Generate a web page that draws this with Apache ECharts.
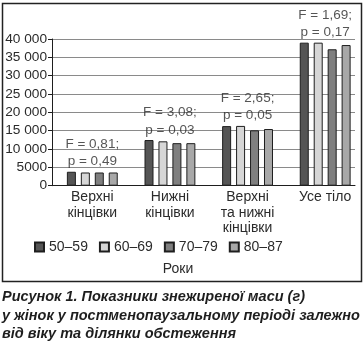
<!DOCTYPE html>
<html>
<head>
<meta charset="utf-8">
<script src="https://cdn.jsdelivr.net/npm/echarts@6/dist/echarts.min.js"></script>
<style>
  html, body { margin: 0; padding: 0; background: #fff; }
  #chart { width: 364px; height: 346px; }
</style>
</head>
<body>
<div id="chart"></div>
<script>
// Lean body mass (g) by body region and age group
const regions = ['Верхні\nкінцівки', 'Нижні\nкінцівки', 'Верхні\nта нижні\nкінцівки', 'Усе тіло'];
const ageGroups = ['50–59', '60–69', '70–79', '80–87'];
const age50_59 = [3800, 12450, 16250, 39000];
const age60_69 = [3600, 12100, 16300, 39000];
const age70_79 = [3600, 11600, 15100, 37200];
const age80_87 = [3600, 11600, 15450, 38350];
const fStat = ['0,81', '3,08', '2,65', '1,69'];
const pStat = ['0,49', '0,03', '0,05', '0,17'];
const yTicks = [0, 5000, 10000, 15000, 20000, 25000, 30000, 35000, 40000];
const yTickLabels = ['0', '5000', '10 000', '15 000', '20 000', '25 000', '30 000', '35 000', '40 000'];

const seriesValues = [age50_59, age60_69, age70_79, age80_87];
const barColors = ['#555555', '#d6d6d6', '#7f7f7f', '#a8a8a8'];
const groupMax = regions.map((_, i) => Math.max(...seriesValues.map(s => s[i])));

const FONT = 'Liberation Sans, Arial, sans-serif';
const TEXT = '#2b2b2b';

const chart = echarts.init(document.getElementById('chart'), null, { renderer: 'canvas' });

const barSeries = ageGroups.map((name, k) => ({
  name: name,
  type: 'bar',
  xAxisIndex: 1,
  yAxisIndex: 1,
  data: seriesValues[k],
  barWidth: 9,
  barGap: '55%',
  itemStyle: { color: barColors[k], borderColor: '#1e1e1e', borderWidth: 1 },
  emphasis: { disabled: true },
  z: 3
}));

chart.setOption({
  animation: false,
  textStyle: { fontFamily: FONT },
  grid: [
    { left: 52, top: 39, width: 303, height: 146.7 },
    { left: 53.5, top: 39, width: 313.2, height: 146.7 }
  ],
  xAxis: [
    {
      type: 'category', gridIndex: 0, data: regions,
      axisLine: { show: true, lineStyle: { color: '#1e1e1e', width: 1 } },
      axisTick: { show: false }, axisLabel: { show: false }, splitLine: { show: false }
    },
    {
      type: 'category', gridIndex: 1, data: regions,
      axisLine: { show: false }, axisTick: { show: false }, splitLine: { show: false },
      axisLabel: {
        show: true, margin: 4, color: TEXT, fontFamily: FONT, fontSize: 14, lineHeight: 15.5,
        interval: 0, align: 'center', verticalAlign: 'top'
      }
    }
  ],
  yAxis: [
    {
      type: 'value', gridIndex: 0, min: 0, max: 40000, interval: 5000,
      axisLine: { show: true, lineStyle: { color: '#1e1e1e', width: 1 } },
      axisTick: { show: true, length: 4, lineStyle: { color: '#1e1e1e' } },
      splitLine: { show: true, lineStyle: { color: '#8a8a8a', width: 1 } },
      axisLabel: {
        margin: 5, color: TEXT, fontFamily: FONT, fontSize: 13.7,
        formatter: v => yTickLabels[yTicks.indexOf(v)]
      }
    },
    {
      type: 'value', gridIndex: 1, min: 0, max: 40000, interval: 5000, show: false
    }
  ],
  legend: {
    data: ageGroups,
    left: 34, top: 240, padding: 0,
    icon: 'rect', itemWidth: 9, itemHeight: 9, itemGap: 11,
    textStyle: { color: TEXT, fontFamily: FONT, fontSize: 14 },
    selectedMode: false
  },
  graphic: [
    { type: 'rect', shape: { x: 2.5, y: 3.5, width: 359, height: 278 },
      style: { fill: 'none', stroke: '#222', lineWidth: 1.5 }, z: 0, silent: true },
    { type: 'text', style: { text: 'Роки', x: 178, y: 269, fill: TEXT,
      font: '14px ' + FONT, textAlign: 'center', textVerticalAlign: 'middle' }, silent: true },
    { type: 'text', style: {
        text: 'Рисунок 1. Показники знежиреної маси (г)\nу жінок у постменопаузальному періоді залежно\nвід віку та ділянки обстеження',
        x: 2, y: 288, fill: '#1e1e1e', font: 'italic bold 14.5px ' + FONT, lineHeight: 18.5,
        textAlign: 'left', textVerticalAlign: 'top' }, silent: true }
  ],
  series: barSeries.concat([{
    name: 'stats',
    type: 'scatter',
    xAxisIndex: 1,
    yAxisIndex: 1,
    data: groupMax,
    symbolSize: 1,
    itemStyle: { color: 'transparent' },
    emphasis: { disabled: true },
    label: {
      show: true, position: 'top', distance: 1,
      color: TEXT, fontFamily: FONT, fontSize: 13.5, lineHeight: 17.5,
      formatter: p => 'F = ' + fStat[p.dataIndex] + ';\np = ' + pStat[p.dataIndex]
    },
    z: 4
  }])
});
</script>
</body>
</html>
